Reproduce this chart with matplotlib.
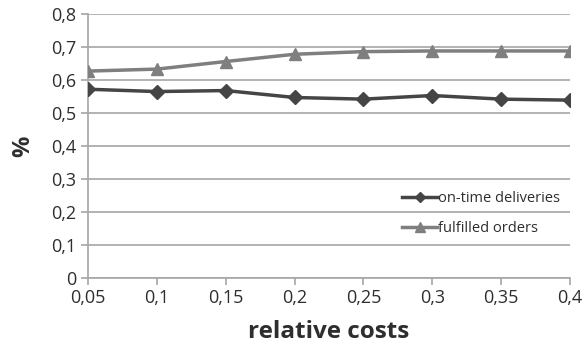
import matplotlib
matplotlib.use("Agg")
import matplotlib.pyplot as plt

categories = ["0,05", "0,1", "0,15", "0,2", "0,25", "0,3", "0,35", "0,4"]
on_time = [0.572, 0.565, 0.568, 0.547, 0.542, 0.553, 0.542, 0.539]
fulfilled = [0.627, 0.633, 0.656, 0.678, 0.686, 0.688, 0.688, 0.688]
yticks = [0, 0.1, 0.2, 0.3, 0.4, 0.5, 0.6, 0.7, 0.8]
ytick_labels = ["0", "0,1", "0,2", "0,3", "0,4", "0,5", "0,6", "0,7", "0,8"]

plt.rcParams['font.family'] = ['Open Sans', 'DejaVu Sans']

fig = plt.figure(figsize=(5.83, 3.49), dpi=100)
ax = fig.add_axes([88/583, 71/349, (570-88)/583, (278-14)/349])

x = list(range(len(categories)))
ax.plot(x, on_time, color='#454545', lw=2.5, marker='D', ms=7, label='on-time deliveries', zorder=3)
ax.plot(x, fulfilled, color='#7f7f7f', lw=2.5, marker='^', ms=9, label='fulfilled orders', zorder=3)

ax.set_xlim(0, len(categories) - 1)
ax.set_ylim(0, 0.8)
ax.set_xticks(x)
ax.set_xticklabels(categories, fontsize=13)
ax.set_yticks(yticks)
ax.set_yticklabels(ytick_labels, fontsize=13)
ax.yaxis.grid(True, color='#a6a6a6', lw=1.2)
ax.set_axisbelow(True)
for s in ['top', 'right']:
    ax.spines[s].set_visible(False)
for s in ['left', 'bottom']:
    ax.spines[s].set_color('#a6a6a6')
    ax.spines[s].set_linewidth(1.2)
ax.tick_params(axis='both', colors='#a6a6a6', length=5, width=1.2, labelcolor='#2e2e2e')
ax.tick_params(axis='x', pad=3)

ax.set_xlabel('relative costs', fontsize=17.5, fontweight='bold', color='#2e2e2e', labelpad=9)
ax.set_ylabel('%', fontsize=17, fontweight='bold', color='#2e2e2e', labelpad=11)

leg = ax.legend(loc='center left', bbox_to_anchor=(0.625, 0.245), frameon=False, fontsize=10.5,
                handlelength=2.4, handletextpad=0.05, labelspacing=1.05, markerscale=0.8)
for t in leg.get_texts():
    t.set_color('#2e2e2e')

fig.savefig('out.png', dpi=100)
